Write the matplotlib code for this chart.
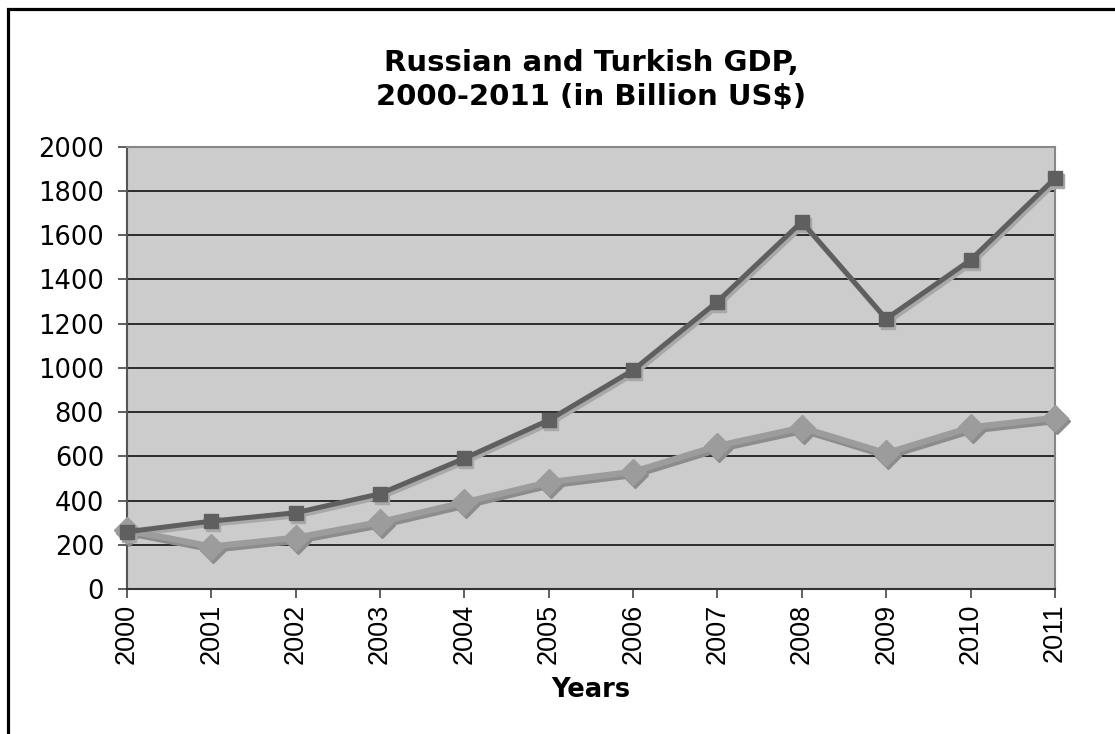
import matplotlib
matplotlib.use("Agg")
import matplotlib.pyplot as plt
import matplotlib.transforms as mtransforms
from matplotlib.patches import Rectangle

# GDP values (billion US$)
years = [2000, 2001, 2002, 2003, 2004, 2005, 2006, 2007, 2008, 2009, 2010, 2011]
russia = [259, 307, 345, 431, 591, 764, 990, 1300, 1661, 1222, 1488, 1857]
turkey = [266, 192, 232, 303, 392, 483, 530, 647, 730, 614, 731, 774]
yticks = [0, 200, 400, 600, 800, 1000, 1200, 1400, 1600, 1800, 2000]

fig = plt.figure(figsize=(11.15, 7.34), dpi=100)
ax = fig.add_axes([0.1139, 0.1975, 0.8322, 0.6025])
ax.set_facecolor("#cccccc")

# border around the whole chart
fig.patches.append(Rectangle((0.0072, -0.05), 1.2, 1.038, transform=fig.transFigure,
                             fill=False, edgecolor="black", linewidth=2.3))

x = list(range(len(years)))

# shadows, shifted a few pixels down/right
shadow = ax.transData + mtransforms.ScaledTranslation(2 / 100, -3 / 100, fig.dpi_scale_trans)
ax.plot(x, turkey, color="#8c8c8c", lw=4.5, marker="D", ms=13, mec="#8c8c8c",
        transform=shadow, clip_on=False, zorder=3)
ax.plot(x, russia, color="#a8a8a8", lw=3.6, marker="s", ms=10.5, mec="#a8a8a8",
        transform=shadow, clip_on=False, zorder=3)

ax.plot(x, turkey, color="#9c9c9c", lw=4.5, marker="D", ms=13, mec="#9c9c9c",
        clip_on=False, zorder=4)
ax.plot(x, russia, color="#5f5f5f", lw=3.6, marker="s", ms=10.5, mec="#5f5f5f",
        clip_on=False, zorder=5)

ax.set_xlim(0, len(years) - 1)
ax.set_ylim(0, 2000)
ax.set_yticks(yticks)
ax.set_yticklabels([str(v) for v in yticks], fontsize=18.5, fontfamily="DejaVu Sans")
ax.set_xticks(x)
ax.set_xticklabels([str(y) for y in years], rotation=90, fontsize=19.5,
                   fontfamily="Liberation Sans")
ax.yaxis.grid(True, color="black", lw=1.1)
ax.set_axisbelow(True)
ax.tick_params(axis="both", direction="out", length=6.5, width=1.2, color="#444444")
ax.tick_params(axis="y", pad=10)
ax.tick_params(axis="x", pad=4)

for side in ["top", "right"]:
    ax.spines[side].set_color("#888888")
    ax.spines[side].set_linewidth(1.5)
ax.spines["left"].set_color("#555555")
ax.spines["left"].set_linewidth(1.5)
ax.spines["bottom"].set_color("#333333")
ax.spines["bottom"].set_linewidth(1.5)

fig.text(0.53, 0.891, "Russian and Turkish GDP,\n2000-2011 (in Billion US$)",
         ha="center", va="center", fontsize=21, fontweight="bold",
         fontfamily="DejaVu Sans", linespacing=1.3)
fig.text(0.53, 0.06, "Years", ha="center", va="center", fontsize=18.5,
         fontweight="bold", fontfamily="DejaVu Sans")

fig.savefig("out.png", dpi=100)
